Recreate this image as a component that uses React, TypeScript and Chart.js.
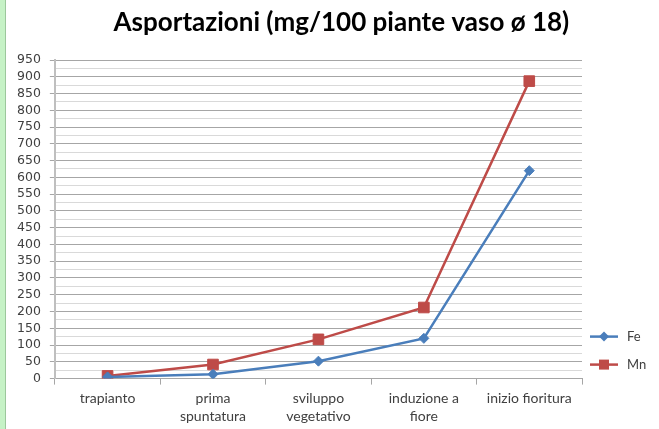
import React, { useEffect, useRef } from 'react';
import { Chart, registerables } from 'chart.js';

Chart.register(...registerables);

const titleText = 'Asportazioni (mg/100 piante vaso ø 18)';
const categories: string[][] = [
  ['trapianto'],
  ['prima', 'spuntatura'],
  ['sviluppo', 'vegetativo'],
  ['induzione a', 'fiore'],
  ['inizio fioritura'],
];
const feValues = [5, 13, 52, 120, 620];
const mnValues = [8, 42, 117, 212, 887];
const seriesNames = ['Fe', 'Mn'];
const yMin = 0;
const yMax = 950;
const yStep = 25;
const yLabelStep = 50;

const FE_COLOR = '#4a7ebb';
const MN_COLOR = '#be4b48';

const titlePlugin = {
  id: 'customTitle',
  afterDraw(chart: any) {
    const { ctx } = chart;
    ctx.save();
    ctx.font = 'bold 26px Lato';
    ctx.fillStyle = '#000000';
    ctx.textAlign = 'center';
    ctx.textBaseline = 'middle';
    ctx.fillText(titleText, chart.width * 0.518, 23);
    ctx.restore();
  },
};

const legendPlugin = {
  id: 'sideLegend',
  afterDraw(chart: any) {
    const { ctx, chartArea } = chart;
    const x0 = chartArea.right + 8;
    chart.data.datasets.forEach((ds: any, i: number) => {
      const y = chartArea.bottom - 42 + i * 28;
      ctx.save();
      ctx.strokeStyle = ds.borderColor;
      ctx.lineWidth = 2.5;
      ctx.beginPath();
      ctx.moveTo(x0, y);
      ctx.lineTo(x0 + 28, y);
      ctx.stroke();
      const cx = x0 + 14;
      ctx.fillStyle = ds.pointBackgroundColor;
      if (ds.pointStyle === 'rect') {
        ctx.fillRect(cx - 5, y - 5, 10, 10);
      } else {
        ctx.beginPath();
        ctx.moveTo(cx, y - 5);
        ctx.lineTo(cx + 5, y);
        ctx.lineTo(cx, y + 5);
        ctx.lineTo(cx - 5, y);
        ctx.closePath();
        ctx.fill();
      }
      ctx.fillStyle = '#404040';
      ctx.font = '13px Lato';
      ctx.textBaseline = 'middle';
      ctx.textAlign = 'left';
      ctx.fillText(ds.label, x0 + 37, y);
      ctx.restore();
    });
  },
};

export default function App() {
  const ref = useRef<HTMLCanvasElement>(null);

  useEffect(() => {
    document.body.style.margin = '0';
    if (!ref.current) return;
    const chart = new Chart(ref.current, {
      type: 'line',
      data: {
        labels: categories as any,
        datasets: [
          {
            label: seriesNames[0],
            data: feValues,
            borderColor: FE_COLOR,
            backgroundColor: FE_COLOR,
            pointBackgroundColor: FE_COLOR,
            pointBorderColor: FE_COLOR,
            borderWidth: 2.5,
            pointStyle: 'rectRot',
            pointRadius: 5,
            pointBorderWidth: 1,
            tension: 0,
          },
          {
            label: seriesNames[1],
            data: mnValues,
            borderColor: MN_COLOR,
            backgroundColor: MN_COLOR,
            pointBackgroundColor: MN_COLOR,
            pointBorderColor: MN_COLOR,
            borderWidth: 2.5,
            pointStyle: 'rect',
            pointRadius: 7.5,
            pointBorderWidth: 1,
            tension: 0,
          },
        ],
      },
      options: {
        responsive: false,
        animation: false,
        layout: { padding: { left: 8, right: 77, top: 60, bottom: -2 } },
        plugins: {
          legend: { display: false },
          title: { display: false },
          tooltip: { enabled: false },
        },
        scales: {
          x: {
            offset: true,
            grid: {
              offset: true,
              drawOnChartArea: false,
              drawTicks: true,
              tickLength: 6,
              tickColor: '#a6a6a6',
            },
            border: { color: '#a6a6a6', width: 1 },
            ticks: {
              color: '#404040',
              font: { family: 'Lato', size: 14, lineHeight: 1.3 },
              padding: 5,
              maxRotation: 0,
              autoSkip: false,
            },
          },
          y: {
            min: yMin,
            max: yMax,
            ticks: {
              stepSize: yStep,
              autoSkip: false,
              callback: (v: any) => (Number(v) % yLabelStep === 0 ? String(v) : ''),
              color: '#404040',
              font: { family: 'DejaVu Sans', size: 12.5 },
              padding: 9,
            },
            grid: {
              color: (c: any) => (c.tick && c.tick.value % yLabelStep === 0 ? '#a6a6a6' : '#d9d9d9'),
              tickColor: (c: any) => (c.tick && c.tick.value % yLabelStep === 0 ? '#a6a6a6' : 'rgba(0,0,0,0)'),
              tickLength: 5,
              lineWidth: 1,
            },
            border: { color: '#bfbfbf', width: 2 },
          },
        },
      },
      plugins: [titlePlugin, legendPlugin],
    });
    return () => chart.destroy();
  }, []);

  return (
    <div style={{ position: 'fixed', left: 0, top: 0, width: 659, height: 429, background: '#ffffff' }}>
      <canvas ref={ref} width={659} height={429} style={{ display: 'block', width: 659, height: 429 }} />
      <div
        style={{
          position: 'absolute',
          left: 0,
          top: 0,
          width: 5,
          height: 429,
          background: '#c6f2c6',
          borderRight: '1px solid #9cc79c',
        }}
      />
    </div>
  );
}
